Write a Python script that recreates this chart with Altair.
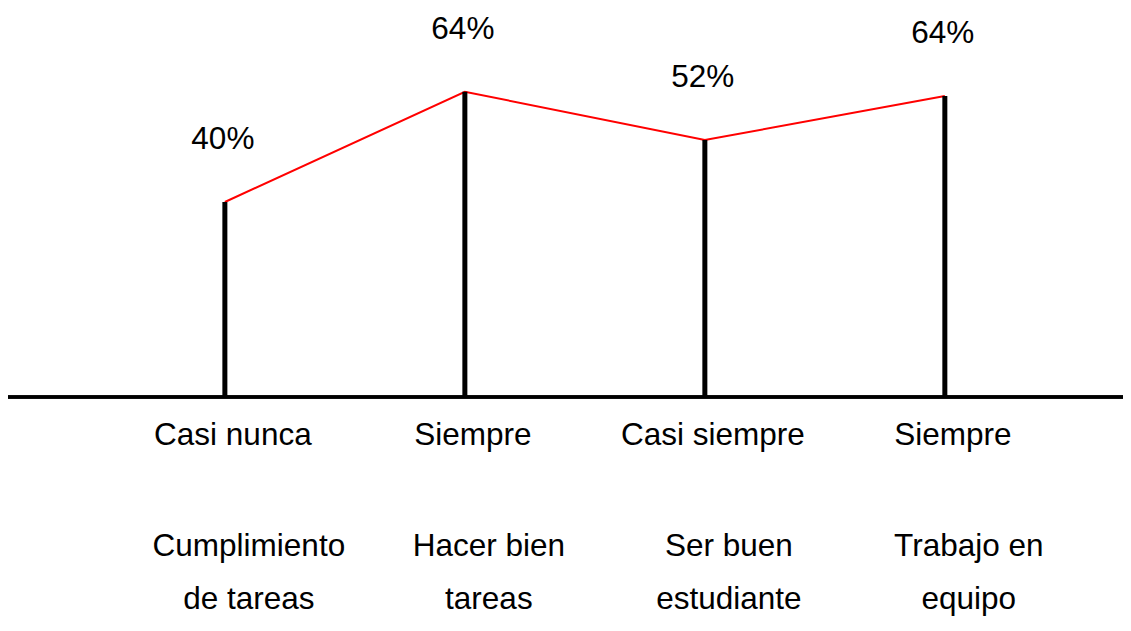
import altair as alt
import pandas as pd

# Data
items = ["Cumplimiento de tareas", "Hacer bien tareas", "Ser buen estudiante", "Trabajo en equipo"]
frequency = ["Casi nunca", "Siempre", "Casi siempre", "Siempre"]
item_line1 = ["Cumplimiento", "Hacer bien", "Ser buen", "Trabajo en"]
item_line2 = ["de tareas", "tareas", "estudiante", "equipo"]
labels = ["40%", "64%", "52%", "64%"]
heights = [41.2, 64.5, 54.3, 63.6]

df = pd.DataFrame({
    "item": items,
    "freq": frequency,
    "l1": item_line1,
    "l2": item_line2,
    "label": labels,
    "h": heights,
    "zero": [0, 0, 0, 0],
})

FONT = "Liberation Sans"
FS = 31.5

x = alt.X("item:N", sort=items, axis=None,
          scale=alt.Scale(type="point", padding=0.823, align=0.549))
y_scale = alt.Scale(domain=[0, 82.2], nice=False, zero=True)
y = alt.Y("h:Q", scale=y_scale, axis=None)

base = alt.Chart(df)

baseline = base.mark_rule(color="black", strokeWidth=3).encode(
    y=alt.Y("zero:Q", scale=y_scale, axis=None)
)

stems = base.mark_rule(color="black", strokeWidth=5).encode(
    x=x, y=y, y2="zero:Q",
)

line = base.mark_line(color="#ff0000", strokeWidth=2).encode(x=x, y=y)

vlabels = base.mark_text(font=FONT, fontSize=FS, color="black",
                         baseline="middle", align="center", dy=-62, dx=-2).encode(
    x=x, y=y, text="label:N",
)

row1 = base.mark_text(font=FONT, fontSize=FS, color="black",
                      baseline="middle", align="center", dx=8).encode(
    x=x, y=alt.value(428), text="freq:N"
)
row2 = base.mark_text(font=FONT, fontSize=FS, color="black",
                      baseline="middle", align="center", dx=24).encode(
    x=x, y=alt.value(539), text="l1:N"
)
row3 = base.mark_text(font=FONT, fontSize=FS, color="black",
                      baseline="middle", align="center", dx=24).encode(
    x=x, y=alt.value(592), text="l2:N"
)

chart = alt.layer(baseline, line, stems, vlabels, row1, row2, row3).properties(
    width=1115,
    height=389,
    autosize=alt.AutoSizeParams(type="none"),
    padding={"left": 0, "top": 0, "right": 0, "bottom": 226},
).configure_view(stroke=None)

chart.save("out.html", embed_options={"renderer": "svg", "actions": False})
